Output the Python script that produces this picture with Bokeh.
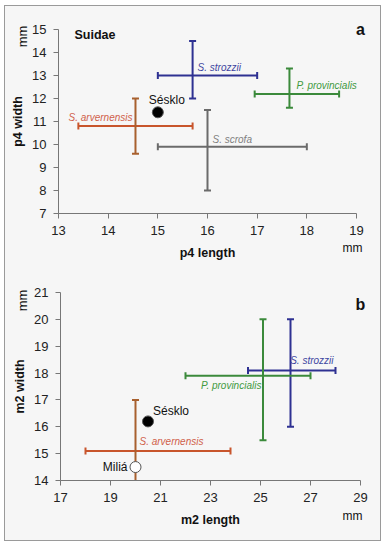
import math
from bokeh.plotting import figure
from bokeh.layouts import column
from bokeh.models import Label, FixedTicker, LinearAxis, Range1d
from bokeh.core.properties import value
from bokeh.embed import file_html
from bokeh.resources import INLINE

# ---- data: panel a (p4) ----
p4_species = ["S. strozzii", "P. provincialis", "S. arvernensis", "S. scrofa"]
p4_len_mean = [15.7, 17.65, 14.55, 16.0]
p4_len_min = [15.0, 16.95, 13.4, 15.0]
p4_len_max = [17.0, 18.65, 15.7, 18.0]
p4_wid_mean = [13.0, 12.2, 10.8, 9.9]
p4_wid_min = [12.0, 11.6, 9.6, 8.0]
p4_wid_max = [14.5, 13.3, 12.0, 11.5]
p4_sites = ["Sésklo"]
p4_site_len = [15.0]
p4_site_wid = [11.4]

# ---- data: panel b (m2) ----
m2_species = ["S. strozzii", "P. provincialis", "S. arvernensis"]
m2_len_mean = [26.2, 25.1, 20.0]
m2_len_min = [24.5, 22.0, 18.0]
m2_len_max = [28.0, 27.0, 23.8]
m2_wid_mean = [18.1, 17.9, 15.1]
m2_wid_min = [16.0, 15.5, 13.5]
m2_wid_max = [20.0, 20.0, 17.0]
m2_sites = ["Sésklo", "Miliá"]
m2_site_len = [20.5, 20.0]
m2_site_wid = [16.2, 14.5]

p4_xticks = [13, 14, 15, 16, 17, 18, 19]
p4_yticks = [7, 8, 9, 10, 11, 12, 13, 14, 15]
m2_xticks = [17, 19, 21, 23, 25, 27, 29]
m2_yticks = [14, 15, 16, 17, 18, 19, 20, 21]

# ---- styles ----
COL = {"S. strozzii": "#2e3192", "P. provincialis": "#3b8a3b",
       "S. arvernensis": "#c8552c", "S. scrofa": "#6b6b6b"}
VCOL = {"S. strozzii": "#2e3192", "P. provincialis": "#3b8a3b",
        "S. arvernensis": "#a8602e", "S. scrofa": "#6b6b6b"}
LCOL = {"S. strozzii": "#3d45a0", "P. provincialis": "#3f9a3f",
        "S. arvernensis": "#d0604a", "S. scrofa": "#808080"}
BG = "#f6f6f6"
FONT = "Liberation Sans"
W = 375


def make_fig(xlo, xhi, ylo, yhi, H, left_px, right_px, top_px, bottom_px,
             xticks, yticks, xlabel, ylabel):
    # pixel layout of the data area inside a full-frame figure
    ppx = (right_px - left_px) / (xhi - xlo)
    ppy = (bottom_px - top_px) / (yhi - ylo)
    xr = Range1d(xlo - left_px / ppx, xlo + (W - left_px) / ppx)
    yr = Range1d(ylo - (H - bottom_px) / ppy, yhi + top_px / ppy)
    p = figure(x_range=xr, y_range=yr, frame_width=W, frame_height=H,
               min_border=0, x_axis_location=None, y_axis_location=None,
               output_backend="svg", toolbar_location=None,
               background_fill_color=BG, border_fill_color=BG)
    p.outline_line_color = None
    p.grid.visible = False
    xa = LinearAxis(fixed_location=ylo, bounds=(xlo, xhi))
    ya = LinearAxis(fixed_location=xlo, bounds=(ylo, yhi))
    for ax, ticks, lab in ((xa, xticks, xlabel), (ya, yticks, ylabel)):
        ax.ticker = FixedTicker(ticks=ticks)
        ax.axis_label = lab
        ax.axis_label_text_font = FONT
        ax.axis_label_text_font_style = "bold"
        ax.axis_label_text_font_size = "12.5px"
        ax.axis_label_text_color = "#111111"
        ax.major_label_text_font = FONT
        ax.major_label_text_font_size = "13px"
        ax.major_label_text_color = "#222222"
        ax.axis_line_color = "#777777"
        ax.major_tick_line_color = "#777777"
        ax.major_tick_in = 0
        ax.major_tick_out = 5
        ax.minor_tick_line_color = None
        ax.major_label_standoff = 7
    xa.axis_label_standoff = 8
    ya.axis_label_standoff = 4
    p.add_layout(xa, "below")
    p.add_layout(ya, "left")
    return p


def draw_bars(p, species, lm, lmin, lmax, wm, wmin, wmax, lab_dx, lab_dy, lab_align,
              lab_base, ylo):
    for i, s in enumerate(species):
        c, vc = COL[s], VCOL[s]
        p.segment(x0=[lmin[i]], y0=[wm[i]], x1=[lmax[i]], y1=[wm[i]], line_color=c, line_width=2)
        p.segment(x0=[lm[i]], y0=[max(wmin[i], ylo)], x1=[lm[i]], y1=[wmax[i]],
                  line_color=vc, line_width=2)
        p.scatter(x=[lmin[i], lmax[i]], y=[wm[i], wm[i]], marker="dash", size=7,
                  angle=math.pi / 2, line_color=c, line_width=2)
        cap_y = [v for v in (wmin[i], wmax[i]) if v >= ylo]
        p.scatter(x=[lm[i]] * len(cap_y), y=cap_y, marker="dash", size=7,
                  line_color=vc, line_width=2)
        p.text(x=[lm[i]], y=[wm[i]], text=[s], x_offset=lab_dx[i], y_offset=lab_dy[i],
               text_align=lab_align[i], text_baseline=lab_base[i],
               text_font=value(FONT), text_font_style="italic",
               text_font_size="10px", text_color=LCOL[s])


def draw_sites(p, names, xs, ys, fills, dx, dy, align):
    p.scatter(x=xs, y=ys, size=11, fill_color=fills, line_color="#555555", line_width=1)
    p.text(x=xs, y=ys, text=names, x_offset=dx, y_offset=dy, text_align=align,
           text_baseline="middle", text_font=value(FONT), text_font_size="12px",
           text_color="#111111")


def add_screen_label(p, x, y, txt, size, bold=False, angle=0.0, align="center"):
    p.add_layout(Label(x=x, y=y, x_units="screen", y_units="screen", text=txt,
                       text_font=FONT, text_font_size=size,
                       text_font_style="bold" if bold else "normal",
                       text_align=align, text_baseline="middle", angle=angle,
                       text_color="#111111"))


# ---- panel a ----
HA = 264
pa = make_fig(p4_xticks[0], p4_xticks[-1], p4_yticks[0], p4_yticks[-1], HA,
              53, 351, 23, 207, p4_xticks, p4_yticks, "p4 length", "p4 width")
draw_bars(pa, p4_species, p4_len_mean, p4_len_min, p4_len_max,
          p4_wid_mean, p4_wid_min, p4_wid_max,
          [5, 7, -3, 5], [-3, -3, -3, -2], ["left", "left", "right", "left"],
          ["bottom", "bottom", "bottom", "bottom"], p4_yticks[0])
draw_sites(pa, p4_sites, p4_site_len, p4_site_wid, ["black"], [-9], [-12], ["left"])
add_screen_label(pa, 69, HA - 34 + 6, "Suidae", "12.5px", bold=True, align="left")
add_screen_label(pa, 355, HA - 29 + 6, "a", "16px", bold=True)
add_screen_label(pa, 17, HA - 36 + 6, "mm", "13px", angle=math.pi / 2)
add_screen_label(pa, 347, HA - 247 + 6, "mm", "12px")

# ---- panel b ----
HB = 270
pb = make_fig(m2_xticks[0], m2_xticks[-1], m2_yticks[0], m2_yticks[-1], HB,
              55, 355, 22, 210, m2_xticks, m2_yticks, "m2 length", "m2 width")
draw_bars(pb, m2_species, m2_len_mean, m2_len_min, m2_len_max,
          m2_wid_mean, m2_wid_min, m2_wid_max,
          [43, -62, 4], [-4, 4, -4], ["right", "left", "left"], ["bottom", "top", "bottom"],
          m2_yticks[0])
draw_sites(pb, m2_sites, m2_site_len, m2_site_wid, ["black", "white"], [5, -8], [-10, 0],
           ["left", "right"])
add_screen_label(pb, 355, HB - 34, "b", "16px", bold=True)
add_screen_label(pb, 17, HB - 30, "mm", "13px", angle=math.pi / 2)
add_screen_label(pb, 347, HB - 245, "mm", "12px")

layout = column(pa, pb, spacing=0, margin=(5, 0, 0, 4),
                styles={"border": "1px solid #9a9a9a", "background-color": BG})

open("out.html", "w").write(file_html(layout, INLINE))
